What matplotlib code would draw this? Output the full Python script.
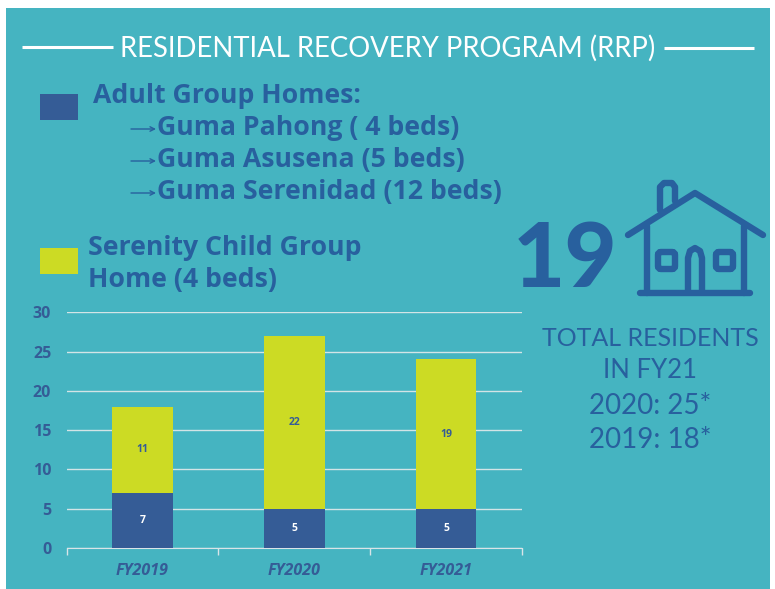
import matplotlib
matplotlib.use("Agg")
import matplotlib.pyplot as plt
from matplotlib.patches import Rectangle, FancyBboxPatch

years = ["FY2019", "FY2020", "FY2021"]
adult_homes = [7, 5, 5]
child_home = [11, 22, 19]
y_ticks = [0, 5, 10, 15, 20, 25, 30]

teal = "#45B4C1"
navy = "#355C96"
lime = "#CCDB24"
text_blue = "#28609E"
W, H = 775, 589

fig = plt.figure(figsize=(W / 100, H / 100), dpi=100, facecolor="white")

# background and everything that is not the chart, in pixel coords
bg = fig.add_axes([0, 0, 1, 1])
bg.set_xlim(0, W)
bg.set_ylim(H, 0)
bg.axis("off")
bg.add_patch(Rectangle((6, 8), 764, 581, color=teal, lw=0))

# title with the white rules
bg.plot([22, 113], [47, 47], color="white", lw=2.2, solid_capstyle="butt")
bg.plot([664, 754], [48, 48], color="white", lw=2.2, solid_capstyle="butt")
bg.text(388, 48, "RESIDENTIAL RECOVERY PROGRAM (RRP)", color="white", fontsize=19.8,
        family="Lato", ha="center", va="center")

# legend
bg.add_patch(Rectangle((40, 94), 38, 26, color=navy, lw=0))
bg.add_patch(Rectangle((40, 248), 38, 26, color=lime, lw=0))
leg_font = dict(color=text_blue, fontsize=19.2, family="Open Sans", fontweight="bold", va="center")
bg.text(93, 96, "Adult Group Homes:", **leg_font)
for yy, label in [(128, "Guma Pahong ( 4 beds)"), (160, "Guma Asusena (5 beds)"), (192, "Guma Serenidad (12 beds)")]:
    bg.text(157, yy, label, **leg_font)
    bg.annotate("", xy=(156, yy + 1), xytext=(131, yy + 1),
                arrowprops=dict(arrowstyle="->", color=text_blue, lw=1.0, mutation_scale=8, shrinkA=0, shrinkB=0))
bg.text(88, 248, "Serenity Child Group", **leg_font)
bg.text(88, 280, "Home (4 beds)", **leg_font)

# big number and the right hand text
bg.text(565, 261, "19", color=text_blue, fontsize=65, family="Lato", fontweight="black",
        ha="center", va="center")
right_lines = ["TOTAL RESIDENTS", "IN FY21", "2020: 25*", "2019: 18*"]
right_sizes = [18, 18.5, 20, 20]
for yy, line, size in zip([338, 371, 406, 440], right_lines, right_sizes):
    bg.text(650, yy, line, color=text_blue, fontsize=size, family="Lato", ha="center", va="center")

# house icon
house = dict(color=text_blue, lw=4.6, solid_capstyle="round", solid_joinstyle="round")
bg.plot([628, 695, 763], [235, 193, 235], **house)
bg.plot([647, 647], [226, 293], **house)
bg.plot([744, 744], [226, 293], **house)
bg.plot([640, 750], [293, 293], **house)
bg.plot([660, 660, 664, 672, 675, 675], [210, 187, 183, 183, 187, 201], **house)
bg.plot([688, 688, 690, 695, 700, 702, 702], [291, 258, 251, 248, 251, 258, 291], **house)
for wx in (658, 716):
    bg.add_patch(FancyBboxPatch((wx, 252), 17, 17, boxstyle="round,pad=0,rounding_size=3",
                                fill=False, ec=text_blue, lw=4.6))

# the chart
ax = fig.add_axes([66.5 / W, 1 - 548 / H, 455.5 / W, 235.7 / H])
ax.patch.set_alpha(0)
xs = range(len(years))
ax.bar(xs, adult_homes, width=0.4, color=navy, zorder=3)
ax.bar(xs, child_home, width=0.4, bottom=adult_homes, color=lime, zorder=3)
for i in xs:
    ax.text(i, adult_homes[i] / 2, str(adult_homes[i]), color="white", fontsize=7.5,
            family="Open Sans", fontweight="bold", ha="center", va="center", zorder=4)
    ax.text(i, adult_homes[i] + child_home[i] / 2, str(child_home[i]), color=navy, fontsize=7.5,
            family="Open Sans", fontweight="bold", ha="center", va="center", zorder=4)

ax.set_xlim(-0.5, 2.5)
ax.set_ylim(0, 30)
ax.set_yticks(y_ticks)
ax.set_xticks([-0.5, 0.5, 1.5, 2.5])
ax.set_xticklabels([])
ax.set_xticks(list(xs), labels=years, minor=True)
ax.tick_params(axis="x", which="major", length=5, width=1, color="#D9E4E8")
ax.tick_params(axis="x", which="minor", length=0, pad=11, labelsize=11.5, labelcolor=navy)
ax.tick_params(axis="y", length=0, pad=11, labelsize=11.5, labelcolor=navy)
for lab in ax.get_xticklabels(minor=True):
    lab.set_family("Open Sans")
    lab.set_fontweight("bold")
    lab.set_fontstyle("italic")
for lab in ax.get_yticklabels():
    lab.set_family("Open Sans")
    lab.set_fontweight("bold")
ax.grid(axis="y", color="#D3E4E6", lw=1, zorder=0)
ax.set_axisbelow(True)
for side in ("top", "left", "right"):
    ax.spines[side].set_visible(False)
ax.spines["bottom"].set_color("#D9E4E8")

fig.savefig("out.png", dpi=100, facecolor="white")
